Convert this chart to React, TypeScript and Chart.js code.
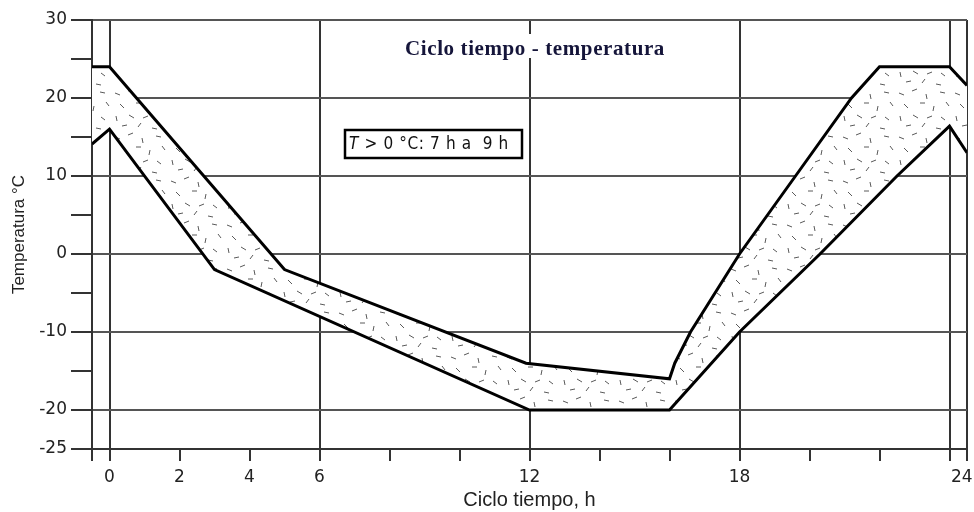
import { useEffect, useRef } from 'react';
import { Chart, registerables } from 'chart.js';

Chart.register(...registerables);

// ---- data ----
const upperHours = [-0.5, 0, 5, 11.9, 16, 16.15, 16.6, 18, 19.6, 21.2, 22, 24, 24.5];
const upperTemps = [24, 24, -2, -14, -16, -14, -10, 0, 10, 20, 24, 24, 21.6];
const lowerHours = [-0.5, 0, 3, 12, 16, 18, 20.3, 22.5, 24, 24.5];
const lowerTemps = [14.1, 16, -2, -20, -20, -10, 0, 10, 16.4, 13];

const xTickValues = [-0.5, 0, 2, 4, 6, 8, 10, 12, 14, 16, 18, 20, 22, 24, 24.35, 24.5];
const xTickLabels = ['', '0', '2', '4', '6', '', '', '12', '', '', '18', '', '', '', '24', ''];
const xGridHours = [-0.5, 0, 6, 12, 18, 24, 24.5];
const xHiddenMarks = [24.35];

const yTickValues = [-25, -20, -15, -10, -5, 0, 5, 10, 15, 20, 25, 30];
const yTickLabels = ['-25', '-20', '', '-10', '', '0', '', '10', '', '20', '', '30'];
const yGridTemps = [-25, -20, -10, 0, 10, 20, 30];

const chartTitle = 'Ciclo tiempo - temperatura';
const noteItalic = 'T';
const noteRest = ' > 0 °C: 7 h a  9 h';
const xTitle = 'Ciclo tiempo, h';
const yTitle = 'Temperatura °C';

// texture dashes inside tile: [x, y, dx, dy]
const hatchDashes = [
  [3, 5, 5, 2], [16, 3, 5, -2], [30, 6, 1, 5], [44, 4, 5, 1],
  [8, 16, 4, 4], [24, 15, 5, 0], [38, 18, -1, 5], [50, 14, 3, 4],
  [4, 28, 1, 5], [17, 27, 5, 3], [31, 30, 5, -2], [45, 29, 4, 3],
  [10, 38, 5, -1], [26, 39, 3, -4], [40, 40, 5, 1],
];

function makePattern(): CanvasPattern | string {
  const c = document.createElement('canvas');
  c.width = 56;
  c.height = 44;
  const g = c.getContext('2d');
  if (!g) return '#eee';
  g.fillStyle = '#ffffff';
  g.fillRect(0, 0, 56, 44);
  g.strokeStyle = '#5a5a5a';
  g.lineWidth = 1;
  for (const [x, y, dx, dy] of hatchDashes) {
    g.beginPath();
    g.moveTo(x, y);
    g.lineTo(x + dx, y + dy);
    g.stroke();
  }
  return g.createPattern(c, 'repeat') || '#eee';
}

const overlayPlugin = {
  id: 'overlay',
  afterDraw(chart: any) {
    const ctx = chart.ctx as CanvasRenderingContext2D;
    ctx.save();
    // Title with white backing
    ctx.font = 'bold 21px "Liberation Serif", "DejaVu Serif", serif';
    (ctx as any).letterSpacing = '0.6px';
    const tw = ctx.measureText(chartTitle).width;
    const cx = 535;
    ctx.fillStyle = '#ffffff';
    ctx.fillRect(cx - tw / 2 - 4, 34, tw + 8, 24);
    ctx.fillStyle = '#15153a';
    ctx.textAlign = 'left';
    ctx.textBaseline = 'alphabetic';
    ctx.fillText(chartTitle, cx - tw / 2, 55);

    // Note box
    const bx = 345, by = 130, bw = 177, bh = 28;
    ctx.fillStyle = '#ffffff';
    ctx.fillRect(bx, by, bw, bh);
    ctx.strokeStyle = '#000';
    ctx.lineWidth = 2.5;
    ctx.strokeRect(bx, by, bw, bh);
    ctx.fillStyle = '#111';
    (ctx as any).letterSpacing = '0px';
    ctx.font = 'italic 17px "DejaVu Sans Condensed", "DejaVu Sans", sans-serif';
    ctx.textBaseline = 'middle';
    ctx.fillText(noteItalic, 349, 145);
    ctx.font = '17px "DejaVu Sans Condensed", "DejaVu Sans", sans-serif';
    const rw = ctx.measureText(noteRest).width;
    const target = 150;
    const ls = (target - rw) / noteRest.length;
    (ctx as any).letterSpacing = ls.toFixed(2) + 'px';
    ctx.fillText(noteRest, 359, 145);
    ctx.restore();
  },
};

export default function App() {
  const canvasRef = useRef<HTMLCanvasElement | null>(null);

  useEffect(() => {
    if (!canvasRef.current) return;
    const pattern = makePattern();
    const gridDark = '#333333';
    const gridH = '#555555';
    const clear = 'rgba(0,0,0,0)';
    const chart = new Chart(canvasRef.current, {
      type: 'line',
      data: {
        datasets: [
          {
            data: upperHours.map((h, i) => ({ x: h, y: upperTemps[i] })),
            borderColor: '#000',
            borderWidth: 3,
            pointRadius: 0,
            tension: 0,
            fill: '+1',
            backgroundColor: pattern as any,
          },
          {
            data: lowerHours.map((h, i) => ({ x: h, y: lowerTemps[i] })),
            borderColor: '#000',
            borderWidth: 3,
            pointRadius: 0,
            tension: 0,
            fill: false,
          },
        ],
      },
      options: {
        animation: false,
        responsive: false,
        events: [],
        layout: { padding: { top: 20, right: 7, left: 0, bottom: 0 } },
        plugins: {
          legend: { display: false },
          tooltip: { enabled: false },
          title: { display: false },
          filler: { drawTime: 'beforeDatasetsDraw' },
        },
        scales: {
          x: {
            type: 'linear',
            min: -0.5,
            max: 24.5,
            afterBuildTicks: (s: any) => {
              s.ticks = xTickValues.map((v) => ({ value: v }));
            },
            afterFit: (s: any) => {
              s.height = 63;
            },
            ticks: {
              autoSkip: false,
              maxRotation: 0,
              padding: 6,
              color: '#222',
              font: { family: '"DejaVu Sans", sans-serif', size: 17 },
              callback: (v: any) => {
                const i = xTickValues.indexOf(Number(v));
                return i >= 0 ? xTickLabels[i] : '';
              },
            },
            grid: {
              lineWidth: 2,
              tickLength: 12,
              color: (c: any) => (xGridHours.includes(c.tick?.value) ? gridDark : clear),
              tickColor: (c: any) => (xHiddenMarks.includes(c.tick?.value) ? clear : gridDark),
            },
            border: { display: true, color: gridDark, width: 2 },
            title: {
              display: true,
              text: xTitle,
              color: '#222',
              font: { family: '"Liberation Sans", Arial, sans-serif', size: 20 },
              padding: { top: 0, bottom: 0 },
            },
          },
          y: {
            type: 'linear',
            min: -25,
            max: 30,
            afterBuildTicks: (s: any) => {
              s.ticks = yTickValues.map((v) => ({ value: v }));
            },
            afterFit: (s: any) => {
              s.width = 92;
            },
            ticks: {
              padding: 4,
              color: '#222',
              font: { family: '"DejaVu Sans", sans-serif', size: 17 },
              callback: (v: any) => {
                const i = yTickValues.indexOf(Number(v));
                return i >= 0 ? yTickLabels[i] : '';
              },
            },
            grid: {
              lineWidth: 2,
              tickLength: 21,
              color: (c: any) => (yGridTemps.includes(c.tick?.value) ? gridH : clear),
              tickColor: gridDark,
            },
            border: { display: true, color: gridDark, width: 2 },
            title: {
              display: true,
              text: yTitle,
              color: '#222',
              font: { family: '"Liberation Sans", Arial, sans-serif', size: 17 },
              padding: { top: 9, bottom: 0 },
            },
          },
        },
      },
      plugins: [overlayPlugin],
    } as any);
    return () => chart.destroy();
  }, []);

  return (
    <div style={{ position: 'absolute', left: 0, top: 0, width: 974, height: 512, background: '#fff' }}>
      <canvas ref={canvasRef} width={974} height={512} style={{ display: 'block' }} />
    </div>
  );
}
